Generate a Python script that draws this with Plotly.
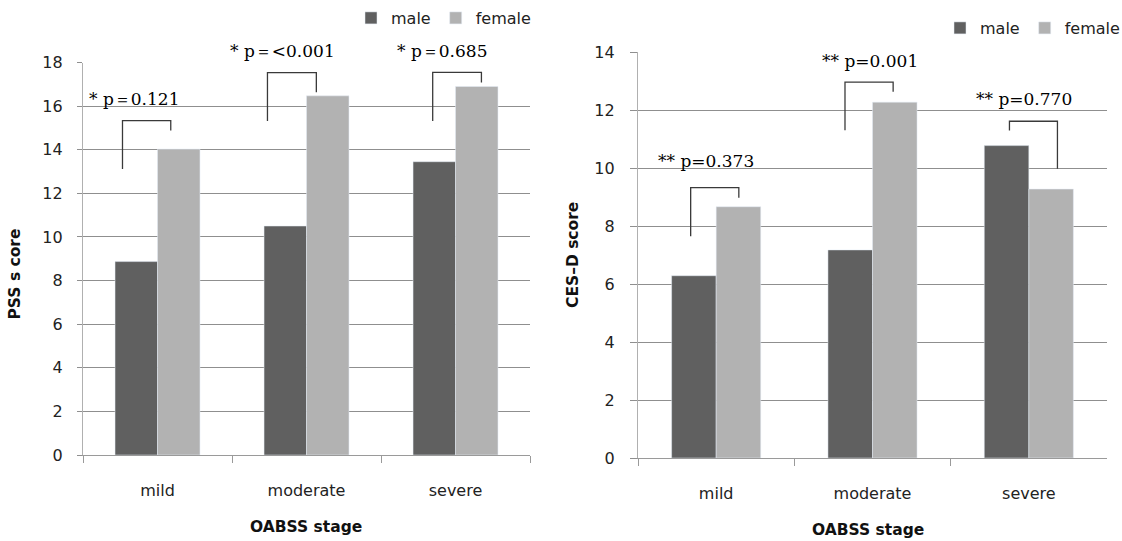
import plotly.graph_objects as go

# ---- data ----
stages = ["mild", "moderate", "severe"]
pss_male = [8.87, 10.5, 13.45]
pss_female = [14.03, 16.47, 16.9]
cesd_male = [6.29, 7.18, 10.78]
cesd_female = [8.67, 12.28, 9.28]

pss_pvalues = ["* p＝0.121", "* p＝<0.001", "* p＝0.685"]
cesd_pvalues = ["** p=0.373", "** p=0.001", "** p=0.770"]

# bracket specs: (dx left, dx right, y left bottom, y top, y right bottom) relative to category
pss_brackets = [(-0.235, 0.089, 13.12, 15.33, 14.88),
                (-0.262, 0.066, 15.32, 17.54, 16.64),
                (-0.153, 0.174, 15.32, 17.55, 17.08)]
pss_label_pos = [(-0.16, 16.33), (-0.159, 18.53), (-0.088, 18.53)]
cesd_brackets = [(-0.163, 0.145, 7.65, 9.33, 8.98),
                 (-0.176, 0.132, 11.31, 12.97, 12.64),
                 (-0.124, 0.183, 11.30, 11.62, 9.98)]
cesd_label_pos = [(-0.064, 10.24), (-0.017, 13.7), (-0.03, 12.4)]

PSS_MAX = 18
CESD_MAX = 14

MALE = "#606060"
FEMALE = "#b2b2b2"
GRID = "#8f8f8f"
AXIS = "#b0b0b0"
TXT = "#222222"
SANS = "DejaVu Sans"
SERIF = "DejaVu Serif"

fig = go.Figure()
fig.add_trace(go.Bar(x=stages, y=pss_male, name="male", marker_color=MALE,
                     xaxis="x", yaxis="y", legend="legend"))
fig.add_trace(go.Bar(x=stages, y=pss_female, name="female", marker_color=FEMALE,
                     xaxis="x", yaxis="y", legend="legend"))
fig.add_trace(go.Bar(x=stages, y=cesd_male, name="male", marker_color=MALE,
                     xaxis="x2", yaxis="y2", legend="legend2"))
fig.add_trace(go.Bar(x=stages, y=cesd_female, name="female", marker_color=FEMALE,
                     xaxis="x2", yaxis="y2", legend="legend2"))

shapes = []
annotations = []
for xr, yr, ymax, brs, labs, texts in [("x", "y", PSS_MAX, pss_brackets, pss_label_pos, pss_pvalues),
                                       ("x2", "y2", CESD_MAX, cesd_brackets, cesd_label_pos, cesd_pvalues)]:
    for i, (b, lp, t) in enumerate(zip(brs, labs, texts)):
        xl, xrr, y1, y2, y3 = i + b[0], i + b[1], b[2], b[3], b[4]
        shapes.append(dict(type="path", xref=xr, yref=yr,
                           path=f"M{xl},{y1} L{xl},{y2} L{xrr},{y2} L{xrr},{y3}",
                           line=dict(color="#3a3a3a", width=1.3)))
        annotations.append(dict(x=i + lp[0], y=lp[1] / ymax, xref=xr, yref=yr + " domain", text=t,
                                showarrow=False, xanchor="center", yanchor="middle",
                                font=dict(family=SERIF, size=17, color="#000000")))

# axis titles
ttl = dict(showarrow=False, xref="paper", yref="paper", xanchor="center", yanchor="middle",
           font=dict(family=SANS, size=15.5, color="#111"))
annotations += [
    dict(x=306 / 1122, y=1 - 527 / 541, text="<b>OABSS stage</b>", **ttl),
    dict(x=868 / 1122, y=1 - 530 / 541, text="<b>OABSS stage</b>", **ttl),
    dict(x=14.5 / 1122, y=1 - 274 / 541, text="<b>PSS s core</b>", textangle=-90, **ttl),
    dict(x=573 / 1122, y=1 - 255 / 541, text="<b>CES–D score</b>", textangle=-90, **ttl),
]

xcommon = dict(type="category", range=[-0.5, 2.5], showline=True, linecolor="#9a9a9a",
               linewidth=1.3, ticks="outside", tickson="boundaries", ticklen=7,
               tickcolor="#9a9a9a", showgrid=False, zeroline=False,
               tickfont=dict(family=SANS, size=16, color=TXT), ticklabelstandoff=21)
ycommon = dict(showline=True, linecolor=AXIS, linewidth=1.3, ticks="outside",
               tickcolor=GRID, showgrid=True, gridcolor=GRID, gridwidth=1.2,
               zeroline=False, dtick=2, tickfont=dict(family=SANS, size=16, color=TXT))

fig.update_layout(
    width=1122, height=541, autosize=False,
    margin=dict(l=0, r=0, t=0, b=0, autoexpand=False),
    paper_bgcolor="white", plot_bgcolor="white",
    barmode="group", bargap=0.43, bargroupgap=0,
    xaxis=dict(domain=[83 / 1122, 530 / 1122], anchor="y", **xcommon),
    yaxis=dict(domain=[1 - 455 / 541, 1 - 62.5 / 541], anchor="x", range=[0, PSS_MAX],
               ticklen=5, ticklabelstandoff=11, **ycommon),
    xaxis2=dict(domain=[638 / 1122, 1107 / 1122], anchor="y2", **xcommon),
    yaxis2=dict(domain=[1 - 458 / 541, 1 - 52.3 / 541], anchor="x2", range=[0, CESD_MAX],
                ticklen=7, ticklabelstandoff=12, **ycommon),
    legend=dict(orientation="h", xref="container", yref="container",
                x=351 / 1122, y=1 - 18 / 541, xanchor="left", yanchor="middle",
                font=dict(family=SANS, size=16, color=TXT), bgcolor="rgba(0,0,0,0)"),
    legend2=dict(orientation="h", xref="container", yref="container",
                 x=940 / 1122, y=1 - 28 / 541, xanchor="left", yanchor="middle",
                 font=dict(family=SANS, size=16, color=TXT), bgcolor="rgba(0,0,0,0)"),
    shapes=shapes, annotations=annotations, showlegend=True,
)

fig.write_html("out.html", config={"displayModeBar": False},
               post_script="document.body.style.margin='0';")
